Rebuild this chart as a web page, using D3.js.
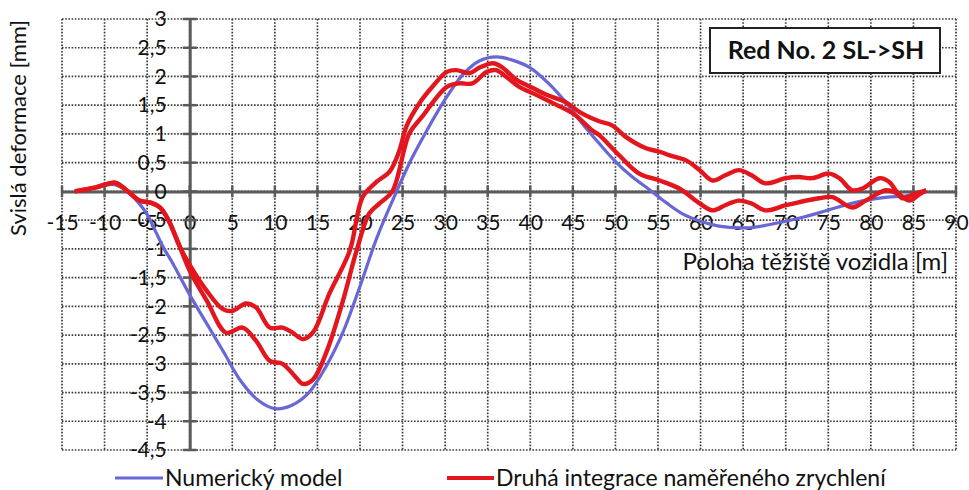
<!DOCTYPE html>
<html>
<head>
<meta charset="utf-8">
<script src="https://cdn.jsdelivr.net/npm/d3@7/dist/d3.min.js"></script>
<style>
  html, body { margin: 0; padding: 0; background: #fff; }
  svg { display: block; font-family: Lato, "Open Sans", sans-serif; }
</style>
</head>
<body>
<svg id="chart" width="969" height="490"></svg>
<script>
// Axis tick values
const xTickValues = d3.range(-15, 91, 5);
const yTickValues = [3, 2.5, 2, 1.5, 1, 0.5, 0, -0.5, -1, -1.5, -2, -2.5, -3, -3.5, -4, -4.5];

// Numerical model: [vehicle position m, deflection mm]
const modelPoints = [
  [-13.5, 0], [-11, 0.07], [-9, 0.12], [-7.5, 0.02], [-6, -0.2], [-5, -0.4], [-4, -0.7],
  [-3, -1.0], [-2, -1.25], [0, -1.8], [2, -2.3], [4, -2.8], [6, -3.3], [8, -3.63],
  [10, -3.78], [12, -3.72], [14, -3.5], [16, -3.05], [18, -2.45], [20, -1.65], [22, -0.8],
  [24, -0.1], [26, 0.55], [28, 1.1], [30, 1.6], [32, 2.02], [34, 2.27], [36, 2.34],
  [38, 2.28], [40, 2.15], [42, 1.9], [44, 1.58], [46, 1.2], [48, 0.85], [50, 0.52],
  [52, 0.25], [54, 0.03], [56, -0.2], [58, -0.4], [60, -0.52], [62, -0.6], [64, -0.63],
  [66, -0.63], [68, -0.58], [70, -0.52], [72, -0.45], [74, -0.37], [76, -0.28],
  [78, -0.2], [80, -0.14], [82, -0.1], [84, -0.08], [86.5, 0]
];

// Double integration of measured acceleration, first pass
const measuredUpper = [
  [-13.5, 0], [-11, 0.07], [-8.8, 0.15], [-7.5, 0.03], [-5.9, -0.16], [-4.5, -0.2],
  [-3.5, -0.28], [-2.5, -0.5], [-1.2, -0.95], [0, -1.28], [2, -1.73], [3.9, -2.05],
  [5, -2.08], [6.6, -1.95], [7.8, -2.02], [9.4, -2.37], [10.9, -2.37], [12, -2.45],
  [13.3, -2.57], [14.5, -2.45], [16.4, -1.78], [18.8, -1.03], [20.3, -0.1], [21.9, 0.16],
  [23.5, 0.35], [24.6, 0.7], [25.5, 1.15], [27, 1.54], [28.5, 1.82], [30.2, 2.08],
  [31.3, 2.11], [32.9, 2.06], [34, 2.15], [35.6, 2.23], [36.7, 2.16], [38.4, 1.94],
  [40.3, 1.8], [41.9, 1.68], [44.2, 1.55], [45.8, 1.38], [48.1, 1.22], [49.6, 1.15],
  [51.3, 0.94], [53.6, 0.75], [55.2, 0.69], [56.3, 0.63], [58.3, 0.54], [59.9, 0.37],
  [61.4, 0.19], [62.9, 0.28], [64.5, 0.37], [66, 0.28], [67.6, 0.14], [70, 0.23],
  [71.5, 0.25], [73.1, 0.23], [75.1, 0.31], [76.3, 0.23], [77.8, 0.02], [79, 0.05],
  [81, 0.23], [82.2, 0.16], [83.7, -0.12], [85, -0.05], [86.5, 0.02]
];

// Double integration of measured acceleration, second pass
const measuredLower = [
  [-13.5, 0], [-11, 0.07], [-8.8, 0.15], [-7.5, 0.03], [-5.9, -0.16], [-4.5, -0.2],
  [-3.5, -0.28], [-2.5, -0.5], [-1.2, -0.95], [0, -1.38], [2, -1.9], [4.3, -2.46],
  [6.2, -2.37], [7.8, -2.6], [9.4, -2.95], [10.9, -3.0], [12.5, -3.24], [13.3, -3.35],
  [14.5, -3.27], [16.1, -2.78], [18, -1.9], [19.6, -1.03], [21.1, -0.38], [22.3, -0.21],
  [23.8, 0.0], [25.8, 1.01], [27.3, 1.3], [30.2, 1.82], [31.7, 1.88], [33.2, 1.88],
  [34.9, 2.08], [36, 2.11], [37.2, 1.99], [38.7, 1.82], [40.7, 1.68], [42.6, 1.54],
  [45, 1.36], [47.3, 1.06], [48.1, 0.98], [50.5, 0.62], [52.8, 0.31], [55.2, 0.19],
  [57.5, 0.05], [59.9, -0.21], [61.4, -0.33], [62.9, -0.24], [64.5, -0.16], [66, -0.21],
  [67.6, -0.33], [70, -0.24], [71.5, -0.19], [73.9, -0.12], [75.5, -0.1], [77.8, -0.28],
  [79.4, -0.16], [81.8, 0.02], [83.3, -0.05], [84.5, -0.16], [85.7, -0.05], [86.5, 0.02]
];

const seriesNames = ["Numerický model", "Druhá integrace naměřeného zrychlení"];
const seriesColors = ["#6767d6", "#e3161d"];
const chartTitle = "Red No. 2 SL->SH";
const xTitle = "Poloha těžiště vozidla [m]";
const yTitle = "Svislá deformace [mm]";

const svg = d3.select("#chart");

const x = d3.scaleLinear().domain([-15, 90]).range([62, 956]);
const y = d3.scaleLinear().domain([-4.5, 3]).range([450, 19]);

const fmt = v => String(v).replace(".", ",");

// Dotted grid
const grid = svg.append("g")
  .attr("stroke", "#3a3a3a").attr("stroke-width", 1.7).attr("stroke-dasharray", "1.6 1.6");
grid.selectAll("line.v").data(xTickValues).join("line")
  .attr("x1", d => x(d)).attr("x2", d => x(d))
  .attr("y1", y(3)).attr("y2", y(-4.5));
grid.selectAll("line.h").data(yTickValues).join("line")
  .attr("x1", x(-15)).attr("x2", x(90))
  .attr("y1", d => y(d)).attr("y2", d => y(d));

// Axes crossing at the origin
const axisColor = "#5a5a5a";
const xAxis = svg.append("g")
  .attr("transform", `translate(0,${y(0)})`)
  .call(d3.axisBottom(x).tickValues(xTickValues).tickFormat(fmt).tickSize(0).tickPadding(24));
const yAxis = svg.append("g")
  .attr("transform", `translate(${x(0)},0)`)
  .call(d3.axisLeft(y).tickValues(yTickValues).tickFormat(fmt).tickSize(0).tickPadding(23));

[xAxis, yAxis].forEach(g => {
  g.select(".domain").attr("stroke", axisColor).attr("stroke-width", 3);
  g.selectAll("text").attr("fill", "#111").style("font-size", "21px")
    .style("font-family", "Lato, sans-serif");
});

// Cross tick marks on both axes
svg.append("g").selectAll("line").data(xTickValues).join("line")
  .attr("x1", d => x(d)).attr("x2", d => x(d))
  .attr("y1", y(0) - 6).attr("y2", y(0) + 6)
  .attr("stroke", axisColor).attr("stroke-width", 2.5);
svg.append("g").selectAll("line").data(yTickValues).join("line")
  .attr("x1", x(0) - 7).attr("x2", x(0) + 7)
  .attr("y1", d => y(d)).attr("y2", d => y(d))
  .attr("stroke", axisColor).attr("stroke-width", 2.5);

// Series
const line = d3.line().x(d => x(d[0])).y(d => y(d[1])).curve(d3.curveCatmullRom.alpha(0.5));
svg.append("path").datum(modelPoints).attr("d", line)
  .attr("fill", "none").attr("stroke", seriesColors[0]).attr("stroke-width", 3.2);
[measuredUpper, measuredLower].forEach(pts => {
  svg.append("path").datum(pts).attr("d", line)
    .attr("fill", "none").attr("stroke", seriesColors[1]).attr("stroke-width", 4.4)
    .attr("stroke-linejoin", "round");
});

// Axis titles
svg.append("text")
  .attr("x", 948).attr("y", 270).attr("text-anchor", "end")
  .style("font-size", "24px").attr("fill", "#111").text(xTitle);
svg.append("text")
  .attr("transform", `translate(26,128) rotate(-90)`).attr("text-anchor", "middle")
  .style("font-size", "22px").attr("fill", "#111").text(yTitle);

// Title box
svg.append("rect").attr("x", 710).attr("y", 28).attr("width", 230).attr("height", 45)
  .attr("fill", "#fff").attr("stroke", "#222").attr("stroke-width", 2);
svg.append("text").attr("x", 826).attr("y", 59).attr("text-anchor", "middle")
  .style("font-size", "25px").style("font-weight", "bold").attr("fill", "#111").text(chartTitle);

// Legend
const legendItems = [
  { x0: 115, x1: 163, name: seriesNames[0], color: seriesColors[0], w: 3.2 },
  { x0: 447, x1: 494, name: seriesNames[1], color: seriesColors[1], w: 4.2 }
];
const lg = svg.append("g");
legendItems.forEach(it => {
  lg.append("line").attr("x1", it.x0).attr("x2", it.x1).attr("y1", 478).attr("y2", 478)
    .attr("stroke", it.color).attr("stroke-width", it.w);
  lg.append("text").attr("x", it.x1 + 2).attr("y", 486)
    .style("font-size", "23px").attr("fill", "#111").text(it.name);
});
</script>
</body>
</html>
